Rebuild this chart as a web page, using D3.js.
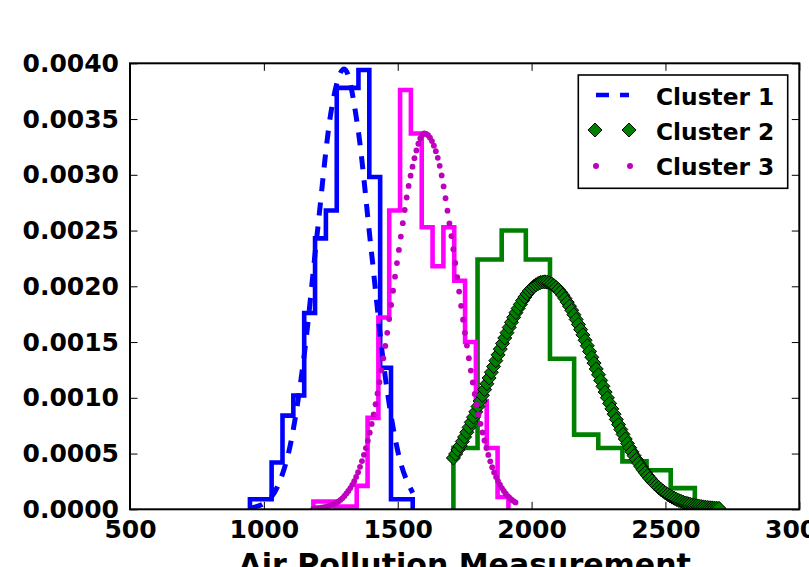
<!DOCTYPE html>
<html><head><meta charset="utf-8">
<script src="https://cdn.jsdelivr.net/npm/d3@7"></script>
<style>
html,body{margin:0;padding:0;background:#fff;}
svg{display:block;}
text{font-family:"DejaVu Sans";font-weight:bold;fill:#000;}
</style>
</head><body>
<svg id="c" width="809" height="567"></svg>
<script>
// ---------- data ----------
const xTicks = [500, 1000, 1500, 2000, 2500, 3000];
const yTicks = [0, 0.0005, 0.0010, 0.0015, 0.0020, 0.0025, 0.0030, 0.0035, 0.0040];
const seriesNames = ["Cluster 1", "Cluster 2", "Cluster 3"];
const xLabel = "Air Pollution Measurement";

// histogram bin edges and densities
const c1Edges = [948, 988.5, 1029, 1069.6, 1110.1, 1150.7, 1191.2, 1231.7, 1272.3, 1312.8, 1353.3, 1393.9, 1434.4, 1474.9, 1515.5, 1556];
const c1Density = [0.00009, 0.00009, 0.00042, 0.00084, 0.00102, 0.00176, 0.00243, 0.00268, 0.00378, 0.00378, 0.00394, 0.00298, 0.00127, 0.00009, 0.00009];

const c2Edges = [1708, 1798.2, 1888.4, 1978.5, 2068.7, 2158.9, 2249.1, 2339.3, 2429.5, 2519.6, 2609.8, 2700];
const c2Density = [0.00055, 0.00224, 0.00250, 0.00224, 0.00135, 0.00067, 0.00055, 0.00043, 0.00035, 0.00019, 0.00004];

const c3Edges = [1185, 1225.5, 1265.9, 1306.4, 1346.9, 1387.4, 1427.8, 1468.3, 1508.8, 1549.2, 1589.7, 1630.2, 1670.6, 1711.1, 1751.6, 1792.1, 1832.5, 1873, 1913.5];
const c3Density = [0.00007, 0.00007, 0.000025, 0.000025, 0.00021, 0.00082, 0.00172, 0.00268, 0.00376, 0.00337, 0.00253, 0.00218, 0.00253, 0.00205, 0.00150, 0.00097, 0.00055, 0.00011];

// fitted curves
const c1FitX = [948, 1000, 1050, 1100, 1150, 1200, 1250, 1300, 1350, 1400, 1450, 1500, 1556];
const c1FitY = [0.0000108, 0.0000525, 0.000199, 0.000591, 0.00137, 0.00249, 0.00355, 0.00395, 0.00344, 0.00235, 0.00125, 0.000524, 0.000148];

const c2FitX = [1708, 1750, 1800, 1850, 1900, 1950, 2000, 2048, 2100, 2150, 2200, 2250, 2300, 2350, 2400, 2450, 2500, 2550, 2600, 2650, 2700];
const c2FitY = [0.000460, 0.000650, 0.000924, 0.001231, 0.001538, 0.001803, 0.001980, 0.002040, 0.001970, 0.001784, 0.001515, 0.001206, 0.000900, 0.000630, 0.000414, 0.000254, 0.0001467, 0.0000794, 0.0000403, 0.0000191, 0.0000085];

const c3FitX = [1185, 1250, 1300, 1350, 1400, 1450, 1500, 1550, 1600, 1650, 1700, 1750, 1800, 1850, 1900, 1940];
const c3FitY = [0.0000058, 0.0000357, 0.000117, 0.000321, 0.000735, 0.001409, 0.002254, 0.003015, 0.003371, 0.003149, 0.002457, 0.001603, 0.000874, 0.000398, 0.0001515, 0.0000615];

// ---------- layout / style ----------
const L = 130, R = 799.3, T = 63.3, B = 509.3;
const diamondCount = 120, dotCount = 105;
const svg = d3.select("#c");

const x = d3.scaleLinear().domain([500, 3000]).range([L, R]);
const y = d3.scaleLinear().domain([0, 0.004]).range([B, T]);

svg.append("defs").append("clipPath").attr("id", "clip")
  .append("rect").attr("x", L).attr("y", T).attr("width", R - L).attr("height", B - T);
const plot = svg.append("g").attr("clip-path", "url(#clip)");

function stepPoints(edges, dens) {
  const pts = [[edges[0], 0]];
  dens.forEach((h, i) => { pts.push([edges[i], h]); pts.push([edges[i + 1], h]); });
  pts.push([edges[edges.length - 1], 0]);
  return pts;
}
const lineXY = d3.line().x(d => x(d[0])).y(d => y(d[1]));

function hist(edges, dens, color) {
  plot.append("path").attr("d", lineXY(stepPoints(edges, dens)))
    .attr("fill", "none").attr("stroke", color).attr("stroke-width", 4.6)
    .attr("stroke-linejoin", "miter");
}
hist(c1Edges, c1Density, "#0000ff");
hist(c2Edges, c2Density, "#008000");
hist(c3Edges, c3Density, "#ff00ff");

const smooth = d3.line().x(d => x(d[0])).y(d => y(d[1])).curve(d3.curveMonotoneX);

// sample the smooth curve at evenly spaced x positions for the markers
function markerPositions(xs, ys, n) {
  const tmp = svg.append("path").attr("d", smooth(d3.zip(xs, ys))).attr("fill", "none");
  const node = tmp.node();
  const len = node.getTotalLength();
  const pts = [];
  for (let l = 0; l <= len; l += 0.25) pts.push(node.getPointAtLength(l));
  pts.push(node.getPointAtLength(len));
  tmp.remove();
  const x0 = x(xs[0]), x1 = x(xs[xs.length - 1]);
  const out = [];
  let j = 0;
  for (let i = 0; i < n; i++) {
    const px = x0 + (x1 - x0) * i / (n - 1);
    while (j < pts.length - 2 && pts[j + 1].x < px) j++;
    const a = pts[j], b = pts[j + 1];
    const t = (b.x - a.x) !== 0 ? Math.max(0, Math.min(1, (px - a.x) / (b.x - a.x))) : 0;
    out.push([px, a.y + (b.y - a.y) * t]);
  }
  return out;
}

// Cluster 1 dashed fit
plot.append("path").attr("d", smooth(d3.zip(c1FitX, c1FitY)))
  .attr("fill", "none").attr("stroke", "#0000ff").attr("stroke-width", 5)
  .attr("stroke-dasharray", "13,11");

// Cluster 2 diamonds
const diamond = s => `M0,${-s}L${s},0L0,${s}L${-s},0Z`;
markerPositions(c2FitX, c2FitY, diamondCount).forEach(p => {
  plot.append("path").attr("d", diamond(7)).attr("transform", `translate(${p[0]},${p[1]})`)
    .attr("fill", "#008000").attr("stroke", "#000").attr("stroke-width", 1);
});

// Cluster 3 dots
markerPositions(c3FitX, c3FitY, dotCount).forEach(p => {
  plot.append("circle").attr("cx", p[0]).attr("cy", p[1]).attr("r", 2.9).attr("fill", "#bf00bf");
});

// ---------- axes ----------
const fmtY = d3.format(".4f");
const gB = svg.append("g").attr("transform", `translate(0,${B})`)
  .call(d3.axisBottom(x).tickValues(xTicks).tickFormat(d3.format("d")).tickSizeInner(-7.5).tickSizeOuter(0).tickPadding(11));
const gT = svg.append("g").attr("transform", `translate(0,${T})`)
  .call(d3.axisTop(x).tickValues(xTicks).tickFormat("").tickSizeInner(-7.5).tickSizeOuter(0));
const gL = svg.append("g").attr("transform", `translate(${L},0)`)
  .call(d3.axisLeft(y).tickValues(yTicks).tickFormat(fmtY).tickSizeInner(-7.5).tickSizeOuter(0).tickPadding(11));
const gR = svg.append("g").attr("transform", `translate(${R},0)`)
  .call(d3.axisRight(y).tickValues(yTicks).tickFormat("").tickSizeInner(-7.5).tickSizeOuter(0));
[gB, gT, gL, gR].forEach(g => {
  g.select(".domain").remove();
  g.selectAll(".tick line").attr("stroke", "#000").attr("stroke-width", 1);
  g.selectAll("text").attr("font-family", "DejaVu Sans").attr("font-weight", "bold").attr("font-size", 25).attr("fill", "#000");
});

svg.append("rect").attr("x", L).attr("y", T).attr("width", R - L).attr("height", B - T)
  .attr("fill", "none").attr("stroke", "#000").attr("stroke-width", 2);

svg.append("text").attr("x", (L + R) / 2).attr("y", 575).attr("text-anchor", "middle")
  .attr("font-size", 30).text(xLabel);

// ---------- legend ----------
const lg = svg.append("g");
lg.append("rect").attr("x", 578.3).attr("y", 75).attr("width", 209.4).attr("height", 113.3)
  .attr("fill", "#fff").attr("stroke", "#000").attr("stroke-width", 1.6);
const rowY = [95, 130, 165];
const hx0 = 596, hx1 = 629;
lg.append("line").attr("x1", hx0).attr("x2", hx1).attr("y1", rowY[0]).attr("y2", rowY[0])
  .attr("stroke", "#0000ff").attr("stroke-width", 4.5).attr("stroke-dasharray", "13,11");
[hx0 - 1, hx1].forEach(px => {
  lg.append("path").attr("d", diamond(7)).attr("transform", `translate(${px},${rowY[1]})`)
    .attr("fill", "#008000").attr("stroke", "#000").attr("stroke-width", 1);
  lg.append("circle").attr("cx", px + 1).attr("cy", rowY[2] + 1).attr("r", 3).attr("fill", "#bf00bf");
});
seriesNames.forEach((n, i) => {
  lg.append("text").attr("x", 656).attr("y", rowY[i] + 9.5).attr("font-size", 23.3).text(n);
});
</script>
</body></html>
